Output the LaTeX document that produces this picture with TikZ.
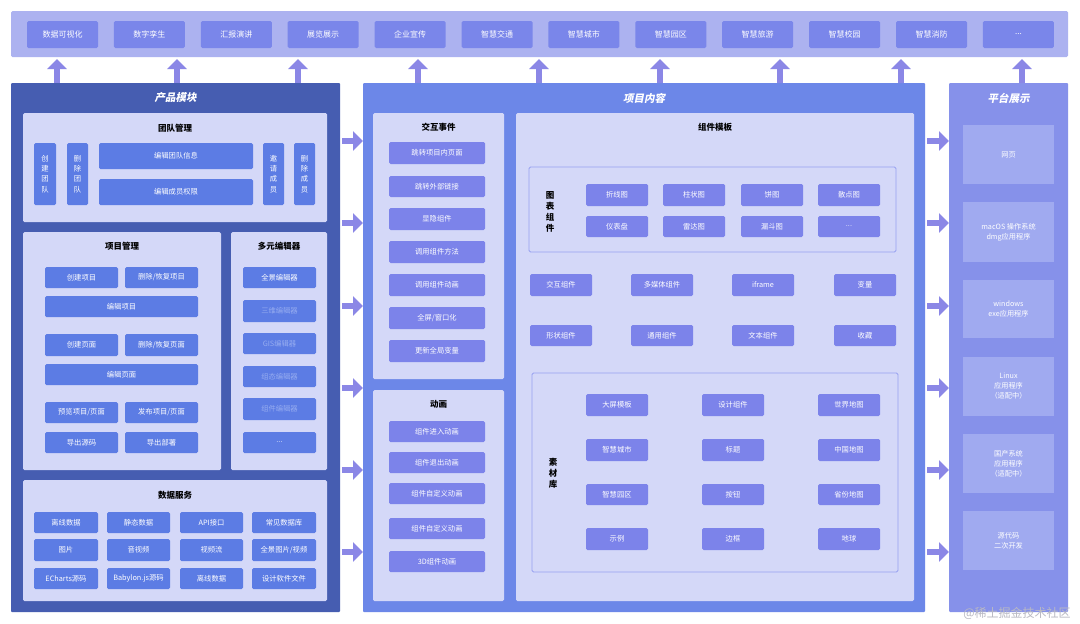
\documentclass[tikz,border=0pt]{standalone}
\usepackage{fontspec}
\setmainfont{Noto Sans CJK SC}
\newfontfamily\cjkslant{Noto Sans CJK SC}[BoldFeatures={FakeSlant=0.2}]
\usetikzlibrary{arrows.meta}
\definecolor{topbarc}{RGB}{172,178,240}
\definecolor{topboxc}{RGB}{122,134,234}
\definecolor{arrowc}{RGB}{139,135,230}
\definecolor{leftpc}{RGB}{70,93,177}
\definecolor{lightc}{RGB}{212,216,248}
\definecolor{leftboxc}{RGB}{92,124,228}
\definecolor{midpc}{RGB}{108,135,232}
\definecolor{midboxc}{RGB}{124,131,234}
\definecolor{rightpc}{RGB}{134,145,234}
\definecolor{rightboxc}{RGB}{160,170,240}
\definecolor{framec}{RGB}{150,160,240}
\definecolor{fadedc}{RGB}{150,172,240}
\definecolor{wmc}{RGB}{185,185,195}
\newcommand\mydots{...}
\newcommand\bx[8][]{\node[#2, minimum width={(#6-#4)*1pt}, minimum height={(#7-#5)*1pt}, #1] (#3) at ({(#4+#6)/2},{(#5+#7)/2}) {#8};}
\tikzset{
  every node/.style={inner sep=0pt, outer sep=0pt},
  topbar/.style={fill=topbarc, rounded corners=1.5pt},
  topbox/.style={fill=topboxc, rounded corners=1.5pt, text=white, font=\fontsize{8}{10}\selectfont},
  leftp/.style={fill=leftpc, rounded corners=1pt},
  midp/.style={fill=midpc, rounded corners=1pt},
  rightp/.style={fill=rightpc, rounded corners=1pt},
  light/.style={fill=lightc, rounded corners=1.5pt},
  frame/.style={fill=lightc, draw=framec, line width=0.8pt, rounded corners=1.5pt},
  ptitle/.style={text=white, font=\cjkslant\bfseries\fontsize{10.5}{12}\selectfont},
  sect/.style={text=black, font=\bfseries\fontsize{8.5}{10}\selectfont},
  vlabel/.style={text=black, align=center, font=\bfseries\fontsize{8.5}{11}\selectfont},
  lbox/.style={fill=leftboxc, rounded corners=1.5pt, text=white, align=center, font=\fontsize{7.3}{10.3}\selectfont},
  mbox/.style={fill=midboxc, rounded corners=1.5pt, text=white, align=center, font=\fontsize{7.3}{10}\selectfont},
  rbox/.style={fill=rightboxc, text=white, align=center, font=\fontsize{7.2}{10}\selectfont},
  faded/.style={text=fadedc},
  uparr/.style={draw=arrowc, line width=6.5pt, -{Triangle[width=19pt,length=10pt]}, shorten >=2pt},
  sidearr/.style={draw=arrowc, line width=6.5pt, -{Triangle[width=19pt,length=10pt]}, shorten <=2pt},
}
\begin{document}
\begin{tikzpicture}[x=1pt,y=-1pt]
\fill[white] (0,0) rectangle (1080,624);
\useasboundingbox (0,0) rectangle (1080,624);

% top bar
\bx{topbar}{top}{11}{11}{1068}{57}{}
\foreach \t [count=\i from 0] in {数据可视化,数字孪生,汇报演讲,展览展示,企业宣传,智慧交通,智慧城市,智慧园区,智慧旅游,智慧校园,智慧消防,\mydots}{
  \pgfmathsetmacro\xl{27+86.9*\i}
  \bx{topbox}{t\i}{\xl}{21}{\xl+71}{48}{\t}
}

% panels
\bx{leftp}{lp}{11}{83}{340}{612}{}
\bx{midp}{mp}{363}{83}{925}{612}{}
\bx{rightp}{rp}{949}{83}{1068}{612}{}
\node[ptitle] (lpt) at (175.5,98) {产品模块};
\node[ptitle] (mpt) at (644,98) {项目内容};
\node[ptitle] (rpt) at (1008.5,98) {平台展示};

% arrows
\foreach \x [count=\k] in {57,177,298,418,539,660,780,901,1022}{
  \coordinate (ua\k) at (\x,83);
  \draw[uparr] (ua\k) -- (ua\k |- top.south);
}
\foreach \y [count=\k] in {141,223,306,388,470,552}{
  \coordinate (la\k) at (340,\y);
  \draw[sidearr] (la\k) -- (la\k -| mp.west);
  \coordinate (ra\k) at (925,\y);
  \draw[sidearr] (ra\k) -- (ra\k -| rp.west);
}

% team management
\bx{light}{team}{23}{113}{327}{222}{}
\node[sect] (teamt) at (175,128) {团队管理};
\bx{lbox}{cjtd}{34}{143}{56}{205}{创\\建\\团\\队}
\bx{lbox}{sctd}{67}{143}{88}{205}{删\\除\\团\\队}
\bx{lbox}{bjxx}{99}{143}{253}{169}{编辑团队信息}
\bx{lbox}{bjqx}{99}{179}{253}{205}{编辑成员权限}
\bx{lbox}{yqcy}{263}{143}{284}{205}{邀\\请\\成\\员}
\bx{lbox}{sccy}{294}{143}{315}{205}{删\\除\\成\\员}

% project management
\bx{light}{proj}{23}{232}{221}{470}{}
\node[sect] (projt) at (122,246) {项目管理};
\bx{lbox}{p1}{45}{267}{118}{288}{创建项目}
\bx{lbox}{p2}{125}{267}{198}{288}{删除/恢复项目}
\bx{lbox}{p3}{45}{296}{198}{317}{编辑项目}
\bx{lbox}{p4}{45}{334}{118}{356}{创建页面}
\bx{lbox}{p5}{125}{334}{198}{356}{删除/恢复页面}
\bx{lbox}{p6}{45}{364}{198}{385}{编辑页面}
\bx{lbox}{p7}{45}{402}{118}{423}{预览项目/页面}
\bx{lbox}{p8}{125}{402}{198}{423}{发布项目/页面}
\bx{lbox}{p9}{45}{432}{118}{453}{导出源码}
\bx{lbox}{p10}{125}{432}{198}{453}{导出部署}

% editors
\bx{light}{edit}{231}{232}{327}{470}{}
\node[sect] (editt) at (279,246) {多元编辑器};
\bx{lbox}{e1}{243}{267}{316}{288}{全景编辑器}
\bx[faded]{lbox}{e2}{243}{300}{316}{322}{三维编辑器}
\bx[faded]{lbox}{e3}{243}{333}{316}{354}{GIS编辑器}
\bx[faded]{lbox}{e4}{243}{366}{316}{387}{组态编辑器}
\bx[faded]{lbox}{e5}{243}{398}{316}{420}{组件编辑器}
\bx{lbox}{e6}{243}{432}{316}{453}{\mydots}

% data services
\bx{light}{data}{23}{480}{327}{601}{}
\node[sect] (datat) at (175,495) {数据服务};
\bx{lbox}{d1}{34}{512}{98}{533}{离线数据}
\bx{lbox}{d2}{107}{512}{170}{533}{静态数据}
\bx{lbox}{d3}{180}{512}{243}{533}{API接口}
\bx{lbox}{d4}{252}{512}{316}{533}{常见数据库}
\bx{lbox}{d5}{34}{539}{98}{561}{图片}
\bx{lbox}{d6}{107}{539}{170}{561}{音视频}
\bx{lbox}{d7}{180}{539}{243}{561}{视频流}
\bx{lbox}{d8}{252}{539}{316}{561}{全景图片/视频}
\bx{lbox}{d9}{34}{568}{98}{589}{ECharts源码}
\bx{lbox}{d10}{107}{568}{170}{589}{Babylon.js源码}
\bx{lbox}{d11}{180}{568}{243}{589}{离线数据}
\bx{lbox}{d12}{252}{568}{316}{589}{设计软件文件}

% interaction events
\bx{light}{inter}{373}{113}{504}{379}{}
\node[sect] (intert) at (438.5,127) {交互事件};
\bx{mbox}{i1}{389}{142}{485}{164}{跳转项目内页面}
\bx{mbox}{i2}{389}{176}{485}{197}{跳转外部链接}
\bx{mbox}{i3}{389}{208}{485}{230}{显隐组件}
\bx{mbox}{i4}{389}{241}{485}{263}{调用组件方法}
\bx{mbox}{i5}{389}{274}{485}{296}{调用组件动画}
\bx{mbox}{i6}{389}{307}{485}{329}{全屏/窗口化}
\bx{mbox}{i7}{389}{340}{485}{362}{更新全局变量}

% animation
\bx{light}{anim}{373}{390}{504}{601}{}
\node[sect] (animt) at (438.5,404) {动画};
\bx{mbox}{a1}{389}{421}{485}{442}{组件进入动画}
\bx{mbox}{a2}{389}{452}{485}{473}{组件退出动画}
\bx{mbox}{a3}{389}{483}{485}{504}{组件自定义动画}
\bx{mbox}{a4}{389}{518}{485}{539}{组件自定义动画}
\bx{mbox}{a5}{389}{551}{485}{572}{3D组件动画}

% component templates
\bx{light}{tmpl}{516}{113}{914}{601}{}
\node[sect] (tmplt) at (715,127) {组件模板};
\bx{frame}{chart}{529}{167}{896}{252}{}
\node[vlabel] (chartl) at (550,212) {图\\表\\组\\件};
\bx{mbox}{c1}{586}{184}{648}{206}{折线图}
\bx{mbox}{c2}{663}{184}{725}{206}{柱状图}
\bx{mbox}{c3}{741}{184}{803}{206}{饼图}
\bx{mbox}{c4}{818}{184}{880}{206}{散点图}
\bx{mbox}{c5}{586}{216}{648}{237}{仪表盘}
\bx{mbox}{c6}{663}{216}{725}{237}{雷达图}
\bx{mbox}{c7}{741}{216}{803}{237}{漏斗图}
\bx{mbox}{c8}{818}{216}{880}{237}{\mydots}
\bx{mbox}{g1}{530}{274}{592}{296}{交互组件}
\bx{mbox}{g2}{631}{274}{693}{296}{多媒体组件}
\bx{mbox}{g3}{732}{274}{794}{296}{iframe}
\bx{mbox}{g4}{834}{274}{896}{296}{变量}
\bx{mbox}{g5}{530}{325}{592}{346}{形状组件}
\bx{mbox}{g6}{631}{325}{693}{346}{通用组件}
\bx{mbox}{g7}{732}{325}{794}{346}{文本组件}
\bx{mbox}{g8}{834}{325}{896}{346}{收藏}

% material library
\bx{frame}{mat}{532}{373}{898}{572}{}
\node[vlabel] (matl) at (553,473) {素\\材\\库};
\bx{mbox}{m1}{586}{394}{648}{416}{大屏模板}
\bx{mbox}{m2}{702}{394}{764}{416}{设计组件}
\bx{mbox}{m3}{818}{394}{880}{416}{世界地图}
\bx{mbox}{m4}{586}{439}{648}{461}{智慧城市}
\bx{mbox}{m5}{702}{439}{764}{461}{标题}
\bx{mbox}{m6}{818}{439}{880}{461}{中国地图}
\bx{mbox}{m7}{586}{484}{648}{505}{智慧园区}
\bx{mbox}{m8}{702}{484}{764}{505}{按钮}
\bx{mbox}{m9}{818}{484}{880}{505}{省份地图}
\bx{mbox}{m10}{586}{528}{648}{550}{示例}
\bx{mbox}{m11}{702}{528}{764}{550}{边框}
\bx{mbox}{m12}{818}{528}{880}{550}{地球}

% platforms
\bx{rbox}{r1}{963}{125}{1054}{184}{网页}
\bx{rbox}{r2}{963}{202}{1054}{262}{macOS 操作系统\\dmg应用程序}
\bx{rbox}{r3}{963}{280}{1054}{338}{windows\\exe应用程序}
\bx{rbox}{r4}{963}{357}{1054}{416}{Linux\\应用程序\\（适配中）}
\bx{rbox}{r5}{963}{434}{1054}{493}{国产系统\\应用程序\\（适配中）}
\bx{rbox}{r6}{963}{511}{1054}{570}{源代码\\二次开发}

% watermark
\node[text=wmc, font=\fontsize{12}{12}\selectfont] (wm) at (1017,613) {@稀土掘金技术社区};
\end{tikzpicture}
\end{document}
